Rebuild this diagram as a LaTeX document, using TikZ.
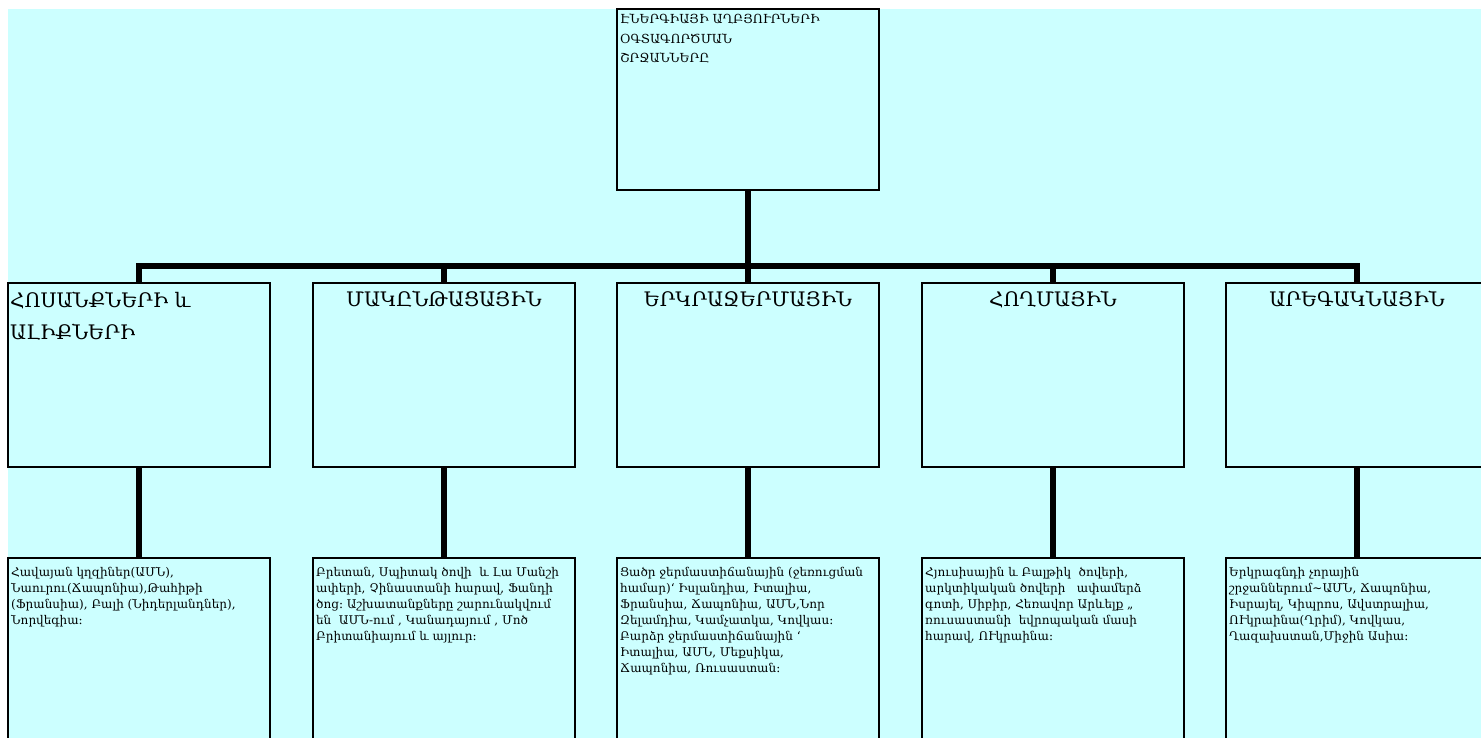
\documentclass[tikz,border=0pt]{standalone}
\usepackage{fontspec}
\setmainfont{DejaVu Serif}
\definecolor{bgc}{HTML}{CCFFFF}
\begin{document}
\begin{tikzpicture}[x=1pt,y=-1pt,
  box/.style={draw=black, line width=1.5pt, fill=bgc, minimum width=262pt, minimum height=#1, inner sep=0pt, outer sep=0pt},
  conn/.style={draw=black, line width=6pt, line join=miter},
  ttl/.style={anchor=base, inner sep=0pt, font=\fontsize{20}{22}\selectfont},
  ttlleft/.style={anchor=north west, align=left, inner sep=0pt, font=\fontsize{20}{32}\selectfont},
  head/.style={anchor=north west, align=left, inner sep=0pt, font=\fontsize{12.5}{19.5}\selectfont},
  txt/.style={anchor=north west, align=left, inner sep=0pt, font=\fontsize{12}{16}\selectfont}]
\useasboundingbox (0,0) rectangle (1481,738);
\clip (0,0) rectangle (1481,738);
\fill[white] (0,0) rectangle (1481,738);
\fill[bgc] (8,9) rectangle (1481,738);

% boxes
\node[box=181pt] (top) at (748,99.5) {};
\node[box=184pt] (a1) at (139,375) {};
\node[box=184pt] (a2) at (444,375) {};
\node[box=184pt] (a3) at (748,375) {};
\node[box=184pt] (a4) at (1053,375) {};
\node[box=184pt] (a5) at (1357,375) {};
\node[box=192pt] (c1) at (139,654) {};
\node[box=192pt] (c2) at (444,654) {};
\node[box=192pt] (c3) at (748,654) {};
\node[box=192pt] (c4) at (1053,654) {};
\node[box=192pt] (c5) at (1357,654) {};

% connectors
\coordinate (bar) at (748,266);
\draw[conn] (top.south) -- (bar);
\draw[conn] (a1.north) |- (bar) -| (a5.north);
\draw[conn] (a2.north) -- (a2.north |- bar);
\draw[conn] (a3.north) -- (a3.north |- bar);
\draw[conn] (a4.north) -- (a4.north |- bar);
\draw[conn] (a1.south) -- (c1.north);
\draw[conn] (a2.south) -- (c2.north);
\draw[conn] (a3.south) -- (c3.north);
\draw[conn] (a4.south) -- (c4.north);
\draw[conn] (a5.south) -- (c5.north);

% texts
\node[head] (tt) at ([xshift=3pt,yshift=-5pt]top.north west) {ԷՆԵՐԳԻԱՅԻ ԱՂԲՅՈՒՐՆԵՐԻ\\ՕԳՏԱԳՈՐԾՄԱՆ\\ՇՐՋԱՆՆԵՐԸ};
\node[ttlleft] (h1) at ([xshift=2pt,yshift=-9pt]a1.north west) {ՀՈՍԱՆՔՆԵՐԻ և\\ԱԼԻՔՆԵՐԻ};
\node[ttl] (h2) at ([yshift=-23pt]a2.north) {ՄԱԿԸՆԹԱՑԱՅԻՆ};
\node[ttl] (h3) at ([yshift=-23pt]a3.north) {ԵՐԿՐԱՋԵՐՄԱՅԻՆ};
\node[ttl] (h4) at ([yshift=-23pt]a4.north) {ՀՈՂՄԱՅԻՆ};
\node[ttl] (h5) at ([yshift=-23pt]a5.north) {ԱՐԵԳԱԿՆԱՅԻՆ};

\node[txt] (t1) at ([xshift=3pt,yshift=-9pt]c1.north west) {Հավայան կղզիներ(ԱՄՆ),\\Նաուրու(Ճապոնիա),Թահիթի\\(Ֆրանսիա), Բալի (Նիդերլանդներ),\\Նորվեգիա։};
\node[txt] (t2) at ([xshift=3pt,yshift=-9pt]c2.north west) {Բրետան, Սպիտակ ծովի\ \ և Լա Մանշի\\ափերի, Չինաստանի հարավ, Ֆանդի\\ծոց։ Աշխատանքները շարունակվում\\են\ \ ԱՄՆ-ում , Կանադայում , Մոծ\\Բրիտանիայում և այլուր։};
\node[txt] (t3) at ([xshift=3pt,yshift=-9pt]c3.north west) {Ցածր ջերմաստիճանային (ջեռուցման\\համար)` Իսլանդիա, Իտալիա,\\Ֆրանսիա, Ճապոնիա, ԱՄՆ,Նոր\\Զելամդիա, Կամչատկա, Կովկաս։\\Բարձր ջերմաստիճանային `\\Իտալիա, ԱՄՆ, Մեքսիկա,\\Ճապոնիա, Ռուսաստան։};
\node[txt] (t4) at ([xshift=3pt,yshift=-9pt]c4.north west) {Հյուսիսային և Բալթիկ\ \ ծովերի,\\արկտիկական ծովերի\ \ \ ափամերձ\\գոտի, Սիբիր, Հեռավոր Արևելք ,,\\ռուսաստանի\ \ եվրոպական մասի\\հարավ, ՈՒկրաինա։};
\node[txt] (t5) at ([xshift=3pt,yshift=-9pt]c5.north west) {Երկրագնդի չորային\\շրջաններում\textasciitilde ԱՄՆ, Ճապոնիա,\\Իսրայել, Կիպրոս, Ավստրալիա,\\ՈՒկրաինա(Ղրիմ), Կովկաս,\\Ղազախստան,Միջին Ասիա։};
\end{tikzpicture}
\end{document}
